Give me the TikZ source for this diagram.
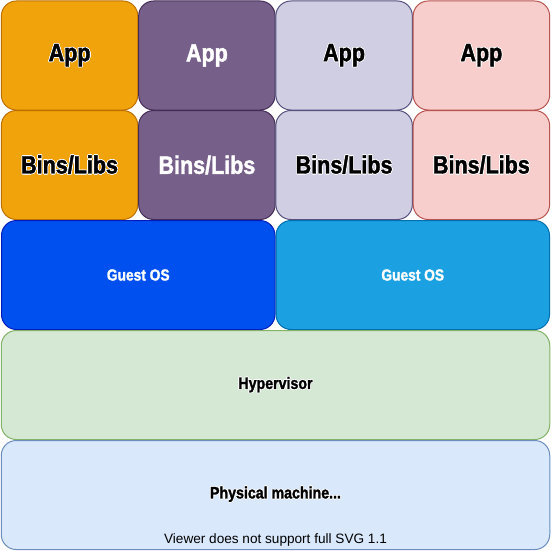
\documentclass[tikz,border=0pt]{standalone}
\usepackage{fontspec}
\setmainfont{Liberation Sans}
\newfontfamily\condfont[FakeStretch=0.86,FakeBold=1.6]{Liberation Sans}
\usepackage{contour}
\contourlength{0.7pt}
\contournumber{16}

\definecolor{orangeF}{HTML}{F0A30A}\definecolor{orangeS}{HTML}{BD7000}
\definecolor{purpleF}{HTML}{76608A}\definecolor{purpleS}{HTML}{432D57}
\definecolor{lavF}{HTML}{D0CEE2}\definecolor{lavS}{HTML}{56517E}
\definecolor{pinkF}{HTML}{F8CECC}\definecolor{pinkS}{HTML}{B85450}
\definecolor{blueF}{HTML}{0050EF}\definecolor{blueS}{HTML}{001DBC}
\definecolor{skyF}{HTML}{1BA1E2}\definecolor{skyS}{HTML}{006EAF}
\definecolor{greenF}{HTML}{D5E8D4}\definecolor{greenS}{HTML}{82B366}
\definecolor{paleF}{HTML}{DAE8FC}\definecolor{paleS}{HTML}{6C8EBF}

\newcommand{\darklabel}[2]{{\condfont\bfseries\fontsize{#1}{#1}\selectfont\contour{white}{#2}}}
\newcommand{\lightlabel}[2]{{\condfont\bfseries\fontsize{#1}{#1}\selectfont\color{white}#2}}

\begin{document}
\begin{tikzpicture}[x=1pt,y=-1pt,
  layer/.style={draw, rounded corners=15pt, line width=1pt, inner sep=0pt},
  cell/.style={layer, minimum width=136.5pt, minimum height=109pt},
  half/.style={layer, minimum width=273.5pt, minimum height=109pt},
  full/.style={layer, minimum width=548.5pt, minimum height=109pt}]
\useasboundingbox (0,0) rectangle (551,551);

% application row
\node[cell, fill=orangeF, draw=orangeS] (app1) at (69.6,55.5) {\darklabel{25}{App}};
\node[cell, fill=purpleF, draw=purpleS] (app2) at (206.9,55.5) {\lightlabel{25}{App}};
\node[cell, fill=lavF, draw=lavS] (app3) at (344.1,55.5) {\darklabel{25}{App}};
\node[cell, fill=pinkF, draw=pinkS] (app4) at (481.4,55.5) {\darklabel{25}{App}};

% binaries and libraries row
\node[cell, fill=orangeF, draw=orangeS] (bin1) at (69.6,165) {\darklabel{25}{Bins/Libs}};
\node[cell, fill=purpleF, draw=purpleS] (bin2) at (206.9,165) {\lightlabel{25}{Bins/Libs}};
\node[cell, fill=lavF, draw=lavS] (bin3) at (344.1,165) {\darklabel{25}{Bins/Libs}};
\node[cell, fill=pinkF, draw=pinkS] (bin4) at (481.4,165) {\darklabel{25}{Bins/Libs}};

% guest operating systems
\node[half, fill=blueF, draw=blueS] (os1) at (138.25,275) {\lightlabel{16}{Guest OS}};
\node[half, fill=skyF, draw=skyS] (os2) at (412.75,275) {\lightlabel{16}{Guest OS}};

% hypervisor and hardware
\node[full, fill=greenF, draw=greenS] (hyp) at (275.5,385) {\darklabel{16.5}{Hypervisor}};
\node[full, fill=paleF, draw=paleS] (phys) at (275.5,495) {};
\node (physlbl) at (275.5,494.5) {\darklabel{16.5}{Physical machine...}};
\node[font=\fontsize{13.6}{13.6}\selectfont] (note) at (275.5,540) {Viewer does not support full SVG 1.1};
\end{tikzpicture}
\end{document}
